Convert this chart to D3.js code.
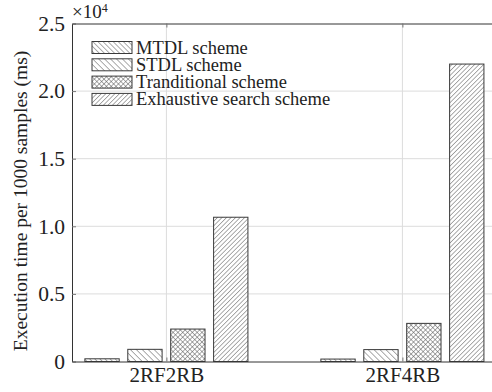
<!DOCTYPE html>
<html>
<head>
<meta charset="utf-8">
<script src="https://cdn.jsdelivr.net/npm/d3@7/dist/d3.min.js"></script>
<style>
  html, body { margin: 0; padding: 0; background: #fff; }
  svg { display: block; font-family: "Liberation Serif", "Times New Roman", serif; }
</style>
</head>
<body>
<svg id="chart" width="492" height="392"></svg>
<script>
// Scenario categories and execution times (ms per 1000 samples)
const categories = ["2RF2RB", "2RF4RB"];
const seriesNames = ["MTDL scheme", "STDL scheme", "Tranditional scheme", "Exhaustive search scheme"];
const mtdl        = [200, 180];
const stdl        = [900, 880];
const traditional = [2400, 2820];
const exhaustive  = [10670, 22000];
const yTicks = [0, 5000, 10000, 15000, 20000, 25000];
const yTickLabels = ["0", "0.5", "1.0", "1.5", "2.0", "2.5"];

const series = [mtdl, stdl, traditional, exhaustive];
const patternIds = ["hatchM", "hatchS", "hatchT", "hatchE"];

const svg = d3.select("#chart");
const plotLeft = 72, plotTop = 23.5, plotBottom = 361.5;

// Categories sit at positions 1 and 2 on a numeric axis
const x = d3.scaleLinear().domain([0.6, 2.4]).range([plotLeft, plotLeft + 1.8 * 236]);
const y = d3.scaleLinear().domain([0, 25000]).range([plotBottom, plotTop]);

// Hatch patterns
const defs = svg.append("defs");
function linePattern(id, size, angle, cross) {
  const p = defs.append("pattern").attr("id", id)
    .attr("patternUnits", "userSpaceOnUse")
    .attr("width", size).attr("height", size)
    .attr("patternTransform", `rotate(${angle})`);
  p.append("rect").attr("width", size).attr("height", size).attr("fill", "#fff");
  p.append("line").attr("x1", 0).attr("y1", 0).attr("x2", 0).attr("y2", size)
    .attr("stroke", "#5a5a5a").attr("stroke-width", 1);
  if (cross) {
    p.append("line").attr("x1", 0).attr("y1", 0).attr("x2", size).attr("y2", 0)
      .attr("stroke", "#5a5a5a").attr("stroke-width", 1);
  }
}
linePattern("hatchM", 3.6, -45, false);
linePattern("hatchS", 4.2, -45, false);
linePattern("hatchT", 3.4, 45, true);
linePattern("hatchE", 3.2, 45, false);

// Grid lines
const grid = svg.append("g");
grid.selectAll("line.gy").data(yTicks.slice(1, -1)).join("line")
  .attr("x1", plotLeft).attr("x2", 492)
  .attr("y1", d => y(d)).attr("y2", d => y(d))
  .attr("stroke", "#dcdcdc").attr("stroke-width", 1);
grid.selectAll("line.gx").data(categories).join("line")
  .attr("x1", (d, i) => x(i + 1)).attr("x2", (d, i) => x(i + 1))
  .attr("y1", plotTop).attr("y2", plotBottom)
  .attr("stroke", "#dcdcdc").attr("stroke-width", 1);

// Grouped bars
const nS = series.length;
const groupWidth = Math.min(0.8, nS / (nS + 1.5));
const offsetStep = groupWidth / nS;
const barW = 0.8 * offsetStep;

series.forEach((vals, s) => {
  svg.append("g").selectAll("rect").data(vals).join("rect")
    .attr("x", (d, i) => x(i + 1 + (s - (nS - 1) / 2) * offsetStep - barW / 2))
    .attr("width", x(barW) - x(0))
    .attr("y", d => y(d))
    .attr("height", d => y(0) - y(d))
    .attr("fill", `url(#${patternIds[s]})`)
    .attr("stroke", "#3a3a3a").attr("stroke-width", 1);
});

// Axes: left and bottom with ticks pointing inward
const yAxis = d3.axisLeft(y).tickValues(yTicks)
  .tickFormat((d, i) => yTickLabels[i]).tickSizeInner(-4).tickSizeOuter(0).tickPadding(7);
const gy = svg.append("g").attr("transform", `translate(${plotLeft},0)`).call(yAxis);
gy.select(".domain").attr("stroke", "#333");
gy.selectAll(".tick line").attr("stroke", "#777");
gy.selectAll("text").attr("font-size", 21.5).attr("fill", "#222")
  .attr("font-family", "Liberation Serif");

const xAxis = d3.axisBottom(x).tickValues([1, 2])
  .tickFormat((d, i) => categories[i]).tickSizeInner(-4).tickSizeOuter(0).tickPadding(6);
const gx = svg.append("g").attr("transform", `translate(0,${plotBottom})`).call(xAxis);
gx.select(".domain").attr("stroke", "#333");
gx.selectAll(".tick line").attr("stroke", "#777");
gx.selectAll("text").attr("font-size", 21).attr("fill", "#222")
  .attr("font-family", "Liberation Serif");

// Top border with ticks
const xTop = d3.axisTop(x).tickValues([1, 2]).tickFormat("").tickSizeInner(-4).tickSizeOuter(0);
const gt = svg.append("g").attr("transform", `translate(0,${plotTop})`).call(xTop);
gt.select(".domain").attr("stroke", "#333");
gt.selectAll(".tick line").attr("stroke", "#777");

// Exponent label
const expo = svg.append("text").attr("x", plotLeft).attr("y", 18)
  .attr("font-size", 19).attr("fill", "#222");
expo.append("tspan").text("\u00d710");
expo.append("tspan").attr("font-size", 12).attr("dy", -6).text("4");

// Y axis title
svg.append("text")
  .attr("transform", `translate(27,201) rotate(-90)`)
  .attr("text-anchor", "middle")
  .attr("font-size", 19.5).attr("fill", "#222")
  .text("Execution time per 1000 samples (ms)");

// Legend
const legend = svg.append("g").attr("transform", "translate(92,41.5)");
seriesNames.forEach((name, i) => {
  const row = legend.append("g").attr("transform", `translate(0,${i * 17.3})`);
  row.append("rect").attr("width", 40).attr("height", 12)
    .attr("fill", `url(#${patternIds[i]})`)
    .attr("stroke", "#3a3a3a").attr("stroke-width", 1);
  row.append("text").attr("x", 44).attr("y", 12)
    .attr("font-size", 18.5).attr("fill", "#222").text(name);
});
</script>
</body>
</html>
